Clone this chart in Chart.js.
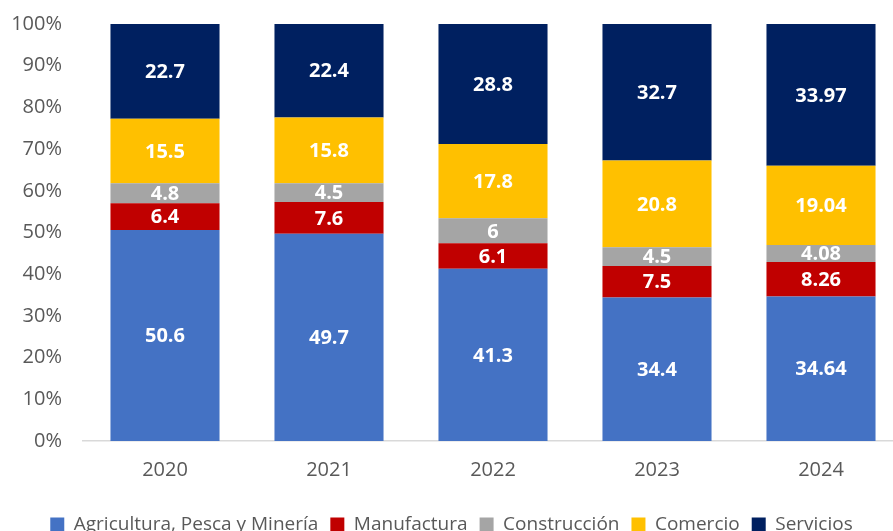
<!DOCTYPE html>
<html>
<head>
<meta charset="utf-8">
<script src="https://cdn.jsdelivr.net/npm/chart.js"></script>
<style>
  html, body { margin: 0; padding: 0; overflow: hidden; background: #fff; }
  #wrap { width: 903px; height: 544px; position: relative; }
</style>
</head>
<body>
<div id="wrap"><canvas id="myChart"></canvas></div>
<script>
// years and sector shares (%)
const years = ['2020', '2021', '2022', '2023', '2024'];
const agricultura = [50.6, 49.7, 41.3, 34.4, 34.64];
const manufactura = [6.4, 7.6, 6.1, 7.5, 8.26];
const construccion = [4.8, 4.5, 6, 4.5, 4.08];
const comercio = [15.5, 15.8, 17.8, 20.8, 19.04];
const servicios = [22.7, 22.4, 28.8, 32.7, 33.97];
const yTicks = ['0%', '10%', '20%', '30%', '40%', '50%', '60%', '70%', '80%', '90%', '100%'];

const series = [
  { label: 'Agricultura, Pesca y Minería', values: agricultura, color: '#4472C4' },
  { label: 'Manufactura', values: manufactura, color: '#C00000' },
  { label: 'Construcción', values: construccion, color: '#A5A5A5' },
  { label: 'Comercio', values: comercio, color: '#FFC000' },
  { label: 'Servicios', values: servicios, color: '#002060' }
];

// 100% stacked: normalise each year to its total
const totals = years.map((y, i) => series.reduce((s, d) => s + d.values[i], 0));

const FONT = 'Open Sans';

const labelPlugin = {
  id: 'barLabels',
  afterDatasetsDraw(chart) {
    const ctx = chart.ctx;
    ctx.save();
    ctx.font = 'bold 20px ' + FONT;
    ctx.fillStyle = '#ffffff';
    ctx.textAlign = 'center';
    ctx.textBaseline = 'middle';
    chart.data.datasets.forEach((ds, di) => {
      chart.getDatasetMeta(di).data.forEach((bar, i) => {
        const mid = (bar.y + bar.base) / 2;
        ctx.fillText(String(ds.raw[i]), bar.x, mid + 1);
      });
    });
    ctx.restore();
  }
};

new Chart(document.getElementById('myChart'), {
  type: 'bar',
  data: {
    labels: years,
    datasets: series.map(s => ({
      label: s.label,
      raw: s.values,
      data: s.values.map((v, i) => v / totals[i] * 100),
      backgroundColor: s.color,
      borderWidth: 0,
      barPercentage: 0.665,
      categoryPercentage: 1
    }))
  },
  options: {
    responsive: true,
    maintainAspectRatio: false,
    animation: false,
    layout: { padding: { top: 24, right: 0, left: 0, bottom: 0 } },
    plugins: {
      legend: {
        position: 'bottom',
        labels: {
          boxWidth: 14,
          boxHeight: 14,
          padding: 12,
          color: '#595959',
          font: { family: FONT, size: 19 }
        }
      },
      tooltip: { enabled: false }
    },
    scales: {
      x: {
        stacked: true,
        grid: { display: false, drawTicks: false },
        border: { color: '#D9D9D9', width: 1.5 },
        ticks: { color: '#595959', padding: 17, font: { family: FONT, size: 20 } },
        afterFit(axis) { axis.height = 62; }
      },
      y: {
        stacked: true,
        min: 0,
        max: 100,
        grid: { display: false, drawTicks: false },
        border: { display: false },
        ticks: {
          stepSize: 10,
          padding: 21,
          color: '#595959',
          font: { family: FONT, size: 20 },
          callback: (v, i) => yTicks[i]
        },
        afterFit(axis) {
          axis.width = 83;
          axis.paddingTop = 0;
          axis.paddingBottom = 0;
        }
      }
    }
  },
  plugins: [labelPlugin]
});
</script>
</body>
</html>
